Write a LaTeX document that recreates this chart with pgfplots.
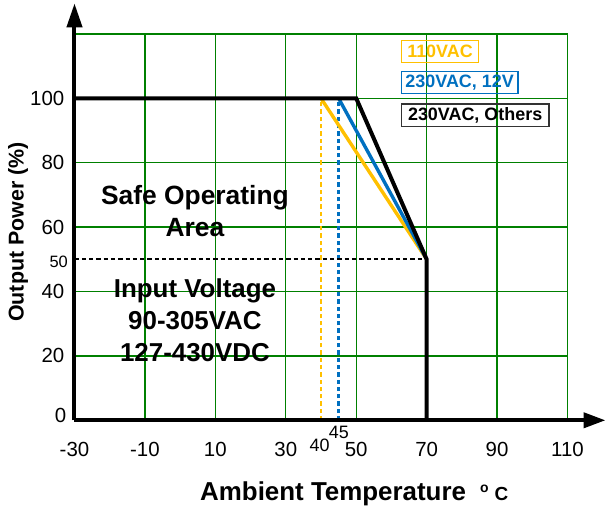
\documentclass[border=0pt]{standalone}
\usepackage{pgfplots}
\pgfplotsset{compat=1.18}
\usepackage{fontspec}
\setmainfont{Liberation Sans}
\usetikzlibrary{arrows.meta}
\definecolor{gridgreen}{RGB}{0,128,0}
\definecolor{ycol}{RGB}{255,192,0}
\definecolor{bcol}{RGB}{0,112,192}
\begin{document}
\begin{tikzpicture}
\useasboundingbox (-74.5bp,-89.7bp) rectangle (531.5bp,420.3bp);
\begin{axis}[
  width=493bp, height=386.4bp, scale only axis,
  at={(0,0)}, anchor=south west,
  xmin=-30, xmax=110, ymin=0, ymax=120,
  axis line style={draw=none},
  xtick={-30,-10,...,110}, ytick={0,20,...,120},
  xticklabels={-30,-10,10,30,50,70,90,110},
  yticklabels={{},20,40,60,80,100,{}},
  major tick length=0pt,
  tick style={draw=none},
  grid=major, grid style={line width=1.4bp, color=gridgreen},
  clip=false,
  xticklabel style={anchor=base, yshift=-36bp, inner sep=0pt, font=\fontsize{20.5}{24}\selectfont},
  yticklabel style={anchor=east, xshift=-10bp, inner sep=0pt, font=\fontsize{20.5}{24}\selectfont},
  xlabel={Ambient Temperature\hspace{14bp}\raisebox{8bp}{\fontsize{14}{14}\selectfont o}\hspace{6bp}{\fontsize{19}{20}\selectfont C}},
  xlabel style={at={(axis description cs:0.2546,-0.2063)}, anchor=base west, inner sep=0pt, font=\bfseries\fontsize{26}{30}\selectfont},
  ylabel={Output Power (\%)},
  ylabel style={at={(axis description cs:-0.1146,0.4873)}, anchor=center, inner sep=0pt, font=\bfseries\fontsize{21.5}{24}\selectfont},
]
% dashed guide lines
\addplot[ycol, line width=2.5bp, dash pattern=on 4.3bp off 3bp] coordinates {(40,0) (40,100)};
\addplot[bcol, line width=2.5bp, dash pattern=on 4.3bp off 3bp] coordinates {(45,0) (45,100)};
\addplot[black, line width=2.3bp, dash pattern=on 4.3bp off 3bp] coordinates {(-30,50) (70,50)};
% derating curves
\addplot[ycol, line width=3.4bp] coordinates {(40,100) (70,50)};
\addplot[bcol, line width=3.4bp] coordinates {(45,100) (70,50)};
\addplot[black, line width=4bp, line join=miter] coordinates {(-30,100) (50,100) (70,50) (70,0)};
% axes
\draw[line width=4bp, -{Triangle[length=22bp,width=15bp]}] (axis cs:-30,0) -- (axis cs:120.8,0);
\draw[line width=4bp, -{Triangle[length=24bp,width=15bp]}] (axis cs:-30,0) -- (axis cs:-30,129.5);
% extra tick labels
\node[anchor=east, inner sep=0pt, font=\fontsize{20.5}{24}\selectfont] at ([xshift=-8bp,yshift=5bp]axis cs:-30,0) {0};
\node[anchor=east, inner sep=0pt, font=\fontsize{16.5}{20}\selectfont] at ([xshift=-6.5bp,yshift=-3bp]axis cs:-30,50) {50};
\node[inner sep=0pt, font=\fontsize{18}{20}\selectfont] at (axis cs:39.6,-7.9) {40};
\node[inner sep=0pt, font=\fontsize{18}{20}\selectfont] at (axis cs:45.1,-3.9) {45};
% annotations
\node[align=center, font=\bfseries\fontsize{26.5}{32}\selectfont] at (axis cs:4.2,65) {Safe Operating\\Area};
\node[align=center, font=\bfseries\fontsize{26}{32}\selectfont] at (axis cs:4.2,31.1) {Input Voltage\\90-305VAC\\127-430VDC};
\end{axis}
% legend boxes
\node[draw=ycol, line width=1.3bp, text=ycol, anchor=west, minimum height=21.6bp, minimum width=77.3bp, inner xsep=2bp, font=\bfseries\fontsize{18}{20}\selectfont] at (326.2bp,368.8bp) {110VAC};
\node[draw=bcol, line width=1.3bp, text=bcol, anchor=west, minimum height=21.6bp, minimum width=116.6bp, inner xsep=2bp, font=\bfseries\fontsize{18}{20}\selectfont] at (326.2bp,338bp) {230VAC, 12V};
\node[draw=black!80, line width=1.3bp, text=black, anchor=west, minimum height=21.6bp, minimum width=147.6bp, inner xsep=2bp, font=\bfseries\fontsize{18}{20}\selectfont] at (326.2bp,305.1bp) {230VAC, Others};
\end{tikzpicture}
\end{document}
